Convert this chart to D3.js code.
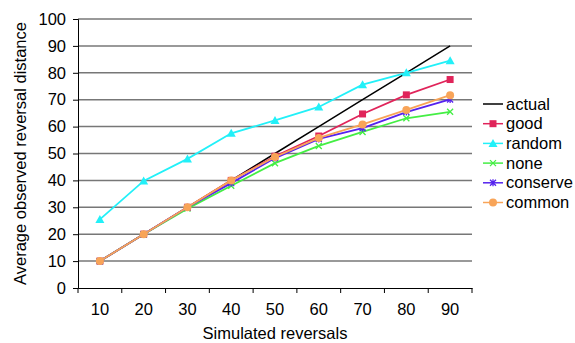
<!DOCTYPE html>
<html lang="en">
<head>
    <meta charset="UTF-8">
    <title>Average observed reversal distance</title>
    <script src="https://d3js.org/d3.v7.min.js"></script>
    <style>
        body {
            margin: 0;
            padding: 0;
            background-color: #ffffff;
            font-family: "Liberation Sans", Arial, sans-serif;
        }
        .axis text {
            font-size: 16.5px;
            fill: #000;
        }
        .legend text {
            font-size: 16.5px;
            fill: #000;
        }
    </style>
</head>
<body>
    <div id="chart"></div>
    <script>
        // chart data
        const categories = [10, 20, 30, 40, 50, 60, 70, 80, 90];
        const seriesNames = ["actual", "good", "random", "none", "conserve", "common"];
        const actual   = [10, 20, 30, 40, 50, 60, 70, 80, 90];
        const good     = [10, 20, 30, 40, 49, 56.5, 64.7, 71.8, 77.5];
        const random   = [25.5, 39.8, 48, 57.5, 62.3, 67.3, 75.6, 80, 84.5];
        const none     = [10, 20, 29.5, 38, 46.4, 52.8, 58, 63.1, 65.5];
        const conserve = [10, 20, 30, 39, 48.3, 55.4, 59.4, 65.4, 70.1];
        const common   = [10, 20, 30, 40, 48.7, 55.8, 60.8, 66.2, 71.7];
        const yTicks = [0, 10, 20, 30, 40, 50, 60, 70, 80, 90, 100];

        const seriesValues = { actual, good, random, none, conserve, common };
        const colors = {
            actual: "#000000",
            good: "#e0245a",
            random: "#22f0f8",
            none: "#44ee44",
            conserve: "#5522ee",
            common: "#f8a458"
        };
        const markers = {
            actual: null,
            good: "square",
            random: "triangle",
            none: "cross",
            conserve: "asterisk",
            common: "circle"
        };

        const W = 575, H = 343;
        const margin = { left: 78, top: 19, right: 103, bottom: 55 };
        const plotW = W - margin.left - margin.right;
        const plotH = H - margin.top - margin.bottom;

        const svg = d3.select("#chart").append("svg")
            .attr("width", W)
            .attr("height", H);

        const g = svg.append("g")
            .attr("transform", `translate(${margin.left},${margin.top})`);

        const x = d3.scaleBand()
            .domain(categories)
            .range([0, plotW]);
        const y = d3.scaleLinear()
            .domain([0, 100])
            .range([plotH, 0]);

        // horizontal grid lines
        g.append("g")
            .selectAll("line")
            .data(yTicks.filter(d => d > 0))
            .enter()
            .append("line")
            .attr("x1", 0)
            .attr("x2", plotW)
            .attr("y1", d => y(d))
            .attr("y2", d => y(d))
            .attr("stroke", "#777")
            .attr("stroke-width", 1.5);

        // y axis
        const yAxis = g.append("g")
            .attr("class", "axis")
            .call(d3.axisLeft(y).tickValues(yTicks).tickSize(5).tickPadding(7));
        yAxis.select(".domain").attr("stroke", "#000");
        yAxis.selectAll(".tick line").attr("stroke", "#000");

        // x axis (category ticks between bands)
        const xAxis = g.append("g")
            .attr("class", "axis")
            .attr("transform", `translate(0,${plotH})`)
            .call(d3.axisBottom(x).tickSize(0).tickPadding(15));
        xAxis.select(".domain").attr("stroke", "#000").attr("stroke-width", 1.2);
        xAxis.selectAll(".tick line").remove();
        xAxis.selectAll(".bound")
            .data(d3.range(categories.length + 1))
            .enter()
            .append("line")
            .attr("x1", i => i * x.step())
            .attr("x2", i => i * x.step())
            .attr("y1", 0)
            .attr("y2", 5)
            .attr("stroke", "#000");

        // axis titles
        svg.append("text")
            .attr("x", margin.left + plotW / 2)
            .attr("y", 339)
            .attr("text-anchor", "middle")
            .style("font-size", "16.5px")
            .text("Simulated reversals");
        svg.append("text")
            .attr("transform", `translate(26,${margin.top + plotH / 2}) rotate(-90)`)
            .attr("text-anchor", "middle")
            .style("font-size", "16.5px")
            .text("Average observed reversal distance");

        const cx = d => x(d) + x.bandwidth() / 2;

        function drawMarker(sel, type, color) {
            if (type === "square") {
                sel.append("rect").attr("x", -3.5).attr("y", -3.5).attr("width", 7).attr("height", 7)
                    .attr("fill", color);
            } else if (type === "triangle") {
                sel.append("path").attr("d", "M0,-4.5L4.5,3.5L-4.5,3.5Z").attr("fill", color);
            } else if (type === "circle") {
                sel.append("circle").attr("r", 4).attr("fill", color);
            } else if (type === "cross") {
                sel.append("path").attr("d", "M-3,-3L3,3M-3,3L3,-3")
                    .attr("stroke", color).attr("stroke-width", 1.3).attr("fill", "none");
            } else if (type === "asterisk") {
                sel.append("path").attr("d", "M-3,-3L3,3M-3,3L3,-3M0,-3.5L0,3.5")
                    .attr("stroke", color).attr("stroke-width", 1.3).attr("fill", "none");
            }
        }

        const line = d3.line()
            .x((d, i) => cx(categories[i]))
            .y(d => y(d));

        seriesNames.forEach(name => {
            const vals = seriesValues[name];
            g.append("path")
                .datum(vals)
                .attr("fill", "none")
                .attr("stroke", colors[name])
                .attr("stroke-width", name === "actual" ? 1.5 : 1.8)
                .attr("d", line);
            if (markers[name]) {
                g.append("g")
                    .selectAll("g")
                    .data(vals)
                    .enter()
                    .append("g")
                    .attr("transform", (d, i) => `translate(${cx(categories[i])},${y(d)})`)
                    .each(function() { drawMarker(d3.select(this), markers[name], colors[name]); });
            }
        });

        // legend
        const legend = svg.append("g")
            .attr("class", "legend")
            .attr("transform", "translate(483,104)");
        seriesNames.forEach((name, i) => {
            const row = legend.append("g").attr("transform", `translate(0,${i * 19.7})`);
            row.append("line")
                .attr("x1", 0).attr("x2", 20)
                .attr("y1", 0).attr("y2", 0)
                .attr("stroke", colors[name])
                .attr("stroke-width", 1.5);
            if (markers[name]) {
                const m = row.append("g").attr("transform", "translate(10,0)");
                drawMarker(m, markers[name], colors[name]);
            }
            row.append("text")
                .attr("x", 23)
                .attr("y", 5.5)
                .text(name);
        });
    </script>
</body>
</html>
